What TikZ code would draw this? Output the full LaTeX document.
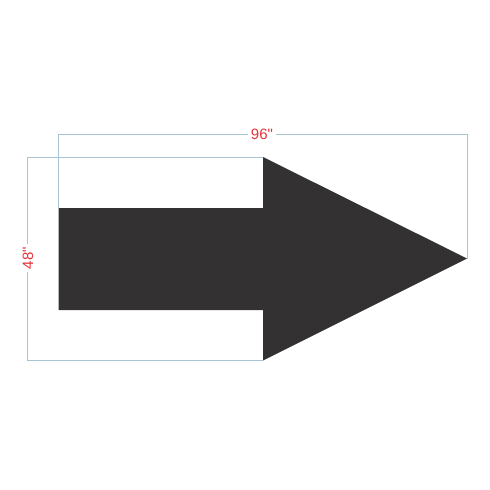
\documentclass[tikz,border=0pt]{standalone}
\usepackage{fontspec}
\setmainfont{Liberation Sans}
\definecolor{arrowgray}{HTML}{333132}
\definecolor{dimblue}{HTML}{A8C3D2}
\definecolor{dimred}{HTML}{E5333B}
\begin{document}
\begin{tikzpicture}[x=1pt,y=-1pt,
  dimline/.style={draw=dimblue,line width=1pt},
  dimlabel/.style={text=dimred,fill=white,inner sep=2.5pt,font=\fontsize{15}{15}\selectfont}]
\useasboundingbox (0,0) rectangle (490,490);
% arrow
\fill[arrowgray] (58.5,208) -- (263,208) -- (263,157) -- (467,258.5) -- (263,360.5) -- (263,310) -- (58.5,310) -- cycle;
% dimension lines
\coordinate (tl) at (58.5,134);
\coordinate (tr) at (467,134);
\draw[dimline] (58.5,208) -- (tl) -- (tr) -- (467,258.5);
\coordinate (lt) at (27.5,157);
\coordinate (lb) at (27.5,360.5);
\draw[dimline] (263,157) -- (lt) -- (lb) -- (263,360.5);
\node[dimlabel] (w) at (262,134) {96\textquotedbl};
\node[dimlabel,rotate=90] (h) at (28,258) {48\textquotedbl};
\end{tikzpicture}
\end{document}
